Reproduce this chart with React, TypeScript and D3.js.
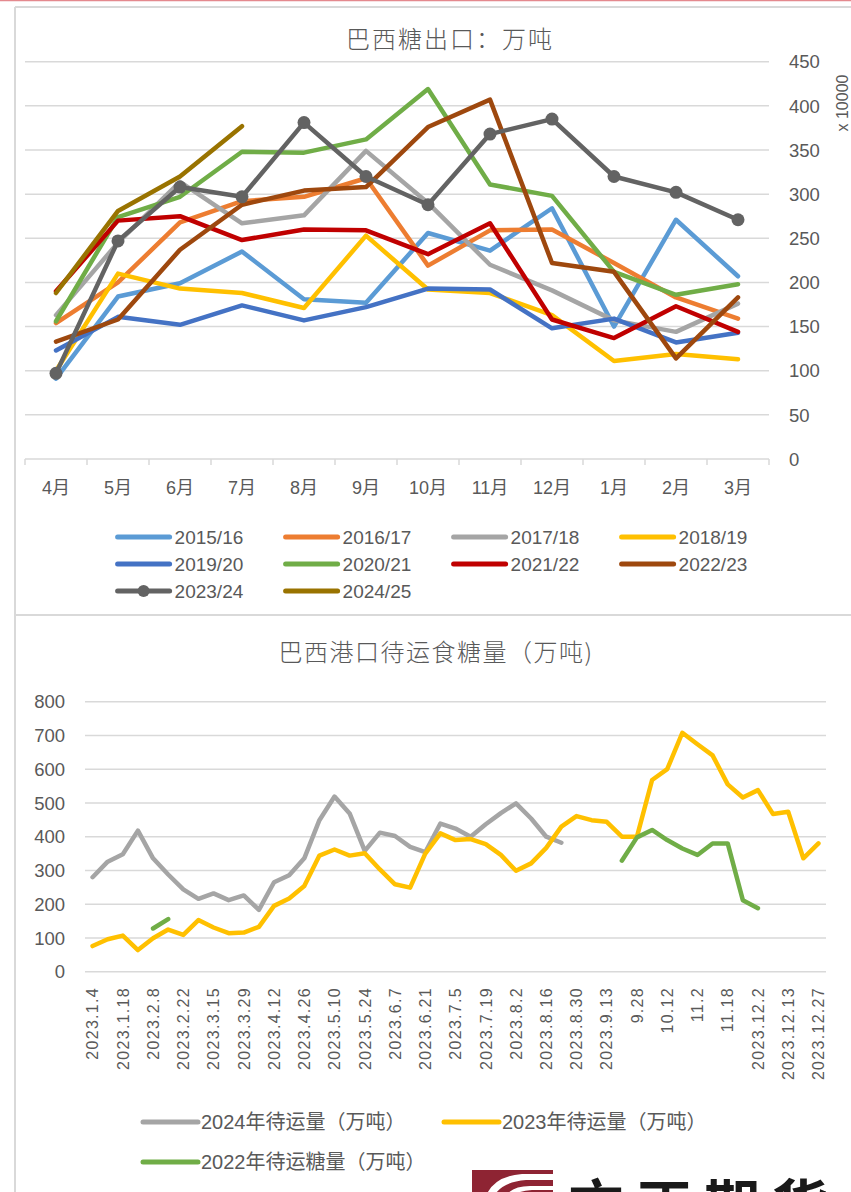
import React from "react";
import * as d3 from "d3";

// ---------- Top chart data: Brazil sugar exports (万吨) ----------
const months = ["4月", "5月", "6月", "7月", "8月", "9月", "10月", "11月", "12月", "1月", "2月", "3月"];
const seasonNames = ["2015/16", "2016/17", "2017/18", "2018/19", "2019/20", "2020/21", "2021/22", "2022/23", "2023/24", "2024/25"];
const seasonColors = ["#5B9BD5", "#ED7D31", "#A5A5A5", "#FFC000", "#4472C4", "#70AD47", "#C00000", "#9E480E", "#636363", "#997300"];
const s2015 = [91, 184, 199, 235, 181, 177, 256, 236, 284, 150, 271, 207];
const s2016 = [154, 200, 268, 292, 297, 318, 219, 259, 260, 222, 183, 159];
const s2017 = [163, 245, 314, 267, 276, 349, 290, 220, 191, 157, 144, 176];
const s2018 = [100, 210, 193, 188, 171, 253, 192, 188, 163, 111, 119, 113];
const s2019 = [123, 161, 152, 174, 157, 172, 193, 192, 148, 159, 132, 143];
const s2020 = [156, 274, 297, 348, 347, 362, 419, 311, 298, 212, 186, 198];
const s2021 = [190, 270, 275, 248, 260, 259, 232, 267, 158, 137, 173, 144];
const s2022 = [133, 158, 237, 288, 304, 308, 376, 407, 222, 212, 114, 183];
const s2023 = [97, 247, 308, 297, 381, 320, 288, 368, 385, 320, 302, 271];
const s2024 = [188, 281, 320, 377];
const topTicks = [0, 50, 100, 150, 200, 250, 300, 350, 400, 450];

// ---------- Bottom chart data: Brazil port sugar waiting (万吨) ----------
const portTickLabels = [
  "2023.1.4", "2023.1.18", "2023.2.8", "2023.2.22", "2023.3.15", "2023.3.29", "2023.4.12", "2023.4.26",
  "2023.5.10", "2023.5.24", "2023.6.7", "2023.6.21", "2023.7.5", "2023.7.19", "2023.8.2", "2023.8.16",
  "2023.8.30", "2023.9.13", "9.28", "10.12", "11.2", "11.18", "2023.12.2", "2023.12.13", "2023.12.27",
];
const portCount = 49;
const wait2024: (number | null)[] = [
  280, 326, 348, 418, 336, 288, 244, 216, 232, 212, 226, 183, 265, 286, 336, 449, 519, 469, 358, 412,
  402, 370, 354, 439, 424, 400, 437, 470, 499, 454, 400, 382,
  null, null, null, null, null, null, null, null, null, null, null, null, null, null, null, null, null,
];
const wait2023: (number | null)[] = [
  76, 96, 107, 64, 99, 125, 109, 153, 131, 114, 116, 133, 195, 217, 254, 344, 362, 344, 351, 303,
  259, 249, 350, 410, 390, 393, 378, 346, 299, 321, 367, 430, 461, 449, 444, 400, 400, 568, 600, 708,
  674, 641, 555, 516, 538, 467, 474, 336, 380,
];
const wait2022: (number | null)[] = [
  null, null, null, null, 128, 156, null, null, null, null, null, null, null, null, null, null, null, null,
  null, null, null, null, null, null, null, null, null, null, null, null, null, null, null, null, null,
  329, 398, 420, 390, 365, 346, 380, 380, 212, 188, null, null, null, null,
];
const portNames = ["2024年待运量（万吨）", "2023年待运量（万吨）", "2022年待运糖量（万吨）"];
const portColors = ["#A5A5A5", "#FFC000", "#70AD47"];
const bottomTicks = [0, 100, 200, 300, 400, 500, 600, 700, 800];

const FONT = "'Liberation Sans', Arial, 'Noto Sans CJK SC', sans-serif";
const TXT = "#595959";
const GRID = "#D9D9D9";

export default function App() {
  const seasons = [s2015, s2016, s2017, s2018, s2019, s2020, s2021, s2022, s2023, s2024];

  // top scales
  const xTop = d3.scaleBand<string>().domain(months).range([25, 769]);
  const yTop = d3.scaleLinear().domain([0, 450]).range([459, 61.7]);
  const lineTop = d3
    .line<number>()
    .x((_, i) => (xTop(months[i]) as number) + xTop.bandwidth() / 2)
    .y((d) => yTop(d));

  // bottom scales
  const idx = d3.range(portCount);
  const xBot = d3.scaleBand<number>().domain(idx).range([85, 826]);
  const yBot = d3.scaleLinear().domain([0, 800]).range([971.7, 701.7]);
  const lineBot = d3
    .line<number | null>()
    .defined((d) => d != null)
    .x((_, i) => (xBot(i) as number) + xBot.bandwidth() / 2)
    .y((d) => yBot(d as number));
  const ports = [wait2024, wait2023, wait2022];

  const legendCols = [115.6, 283.6, 451.6, 619.6];
  const legendRows = [537, 564, 591];

  return (
    <svg
      width={851}
      height={1192}
      style={{ position: "absolute", left: 0, top: 0, background: "#fff" }}
      fontFamily={FONT}
    >
      <rect x={0} y={0} width={851} height={1192} fill="#fff" />
      {/* frame lines */}
      <line x1={0} x2={851} y1={0.5} y2={0.5} stroke="#E4898E" strokeWidth={1.5} />
      <line x1={15} x2={851} y1={7} y2={7} stroke={GRID} strokeWidth={2} />
      <line x1={15} x2={15} y1={7} y2={1192} stroke={GRID} strokeWidth={2} />
      <line x1={15} x2={851} y1={615} y2={615} stroke={GRID} strokeWidth={2} />

      {/* ---------------- TOP CHART ---------------- */}
      <text x={450} y={48} textAnchor="middle" fontSize={24} fill={TXT} letterSpacing={2} fontFamily="'Noto Sans CJK SC', sans-serif" fontWeight={300}>
        巴西糖出口：万吨
      </text>
      {topTicks.map((t) => (
        <g key={"tg" + t}>
          <line x1={25} x2={769} y1={yTop(t)} y2={yTop(t)} stroke={GRID} strokeWidth={1.5} />
          <text x={789} y={yTop(t)} dy="0.36em" fontSize={18.5} fill={TXT}>
            {t}
          </text>
        </g>
      ))}
      {d3.range(months.length + 1).map((i) => {
        const x = 25 + i * xTop.step();
        return <line key={"tk" + i} x1={x} x2={x} y1={459} y2={465} stroke={GRID} strokeWidth={1.5} />;
      })}
      {months.map((m) => (
        <text
          key={"m" + m}
          x={(xTop(m) as number) + xTop.bandwidth() / 2}
          y={488}
          dy="0.36em"
          textAnchor="middle"
          fontSize={18}
          fill={TXT}
        >
          {m}
        </text>
      ))}
      <text transform="translate(842,103) rotate(-90)" textAnchor="middle" dy="0.36em" fontSize={16} fill={TXT}>
        x 10000
      </text>
      {seasons.map((s, k) => (
        <path
          key={"sl" + k}
          d={lineTop(s) as string}
          fill="none"
          stroke={seasonColors[k]}
          strokeWidth={4.5}
          strokeLinejoin="round"
          strokeLinecap="round"
        />
      ))}
      {s2023.map((v, i) => (
        <circle
          key={"mk" + i}
          cx={(xTop(months[i]) as number) + xTop.bandwidth() / 2}
          cy={yTop(v)}
          r={6.5}
          fill="#636363"
        />
      ))}
      {/* top legend */}
      {seasonNames.map((n, k) => {
        const cx = legendCols[k % 4];
        const cy = legendRows[Math.floor(k / 4)];
        return (
          <g key={"lg" + n}>
            <line x1={cx + 2} x2={cx + 54} y1={cy} y2={cy} stroke={seasonColors[k]} strokeWidth={5} strokeLinecap="round" />
            {k === 8 && <circle cx={cx + 28} cy={cy} r={6} fill={seasonColors[k]} />}
            <text x={cx + 59} y={cy} dy="0.36em" fontSize={19} fill={TXT}>
              {n}
            </text>
          </g>
        );
      })}

      {/* ---------------- BOTTOM CHART ---------------- */}
      <text x={436} y={652} dy="0.36em" textAnchor="middle" fontSize={24} fill={TXT} letterSpacing={1.5} fontFamily="'Noto Sans CJK SC', sans-serif" fontWeight={300}>
        巴西港口待运食糖量（万吨)
      </text>
      {bottomTicks.map((t) => (
        <g key={"bg" + t}>
          <line x1={85} x2={826} y1={yBot(t)} y2={yBot(t)} stroke={GRID} strokeWidth={1.5} />
          <text x={65} y={yBot(t)} dy="0.36em" textAnchor="end" fontSize={18.5} fill={TXT}>
            {t}
          </text>
        </g>
      ))}
      {portTickLabels.map((lab, k) => {
        const i = k * 2;
        const x = (xBot(i) as number) + xBot.bandwidth() / 2;
        return (
          <text
            key={"pl" + k}
            transform={`translate(${x},987) rotate(-90)`}
            textAnchor="end"
            dy="0.36em"
            fontSize={16}
            letterSpacing={1.3}
            fill={TXT}
          >
            {lab}
          </text>
        );
      })}
      {ports.map((s, k) => (
        <path
          key={"pp" + k}
          d={lineBot(s) as string}
          fill="none"
          stroke={portColors[k]}
          strokeWidth={4.5}
          strokeLinejoin="round"
          strokeLinecap="round"
        />
      ))}
      {/* bottom legend */}
      {portNames.map((n, k) => {
        const sx = k === 1 ? 444 : 143;
        const cy = k === 2 ? 1162 : 1122;
        return (
          <g key={"pn" + k}>
            <line x1={sx} x2={sx + 55} y1={cy} y2={cy} stroke={portColors[k]} strokeWidth={5} strokeLinecap="round" />
            <text x={sx + 58} y={cy} dy="0.36em" fontSize={20} fill={TXT}>
              {n}
            </text>
          </g>
        );
      })}

      {/* logo (cropped at bottom, as in the reference) */}
      <rect x={472} y={1170} width={81} height={40} fill="#8E2433" />
      <path d="M 486 1196 Q 494 1176 522 1174 L 553 1174 L 553 1180 L 526 1180 Q 502 1182 494 1196 Z" fill="#fff" />
      <path d="M 506 1196 Q 512 1186 530 1186 L 553 1186 L 553 1190 L 532 1190 Q 518 1191 512 1196 Z" fill="#fff" />
      <text x={568} y={1226} fontSize={56} fontWeight={700} letterSpacing={12} fill="#1a1a1a" fontFamily="'Noto Sans CJK SC', sans-serif">
        方正期货
      </text>
    </svg>
  );
}
